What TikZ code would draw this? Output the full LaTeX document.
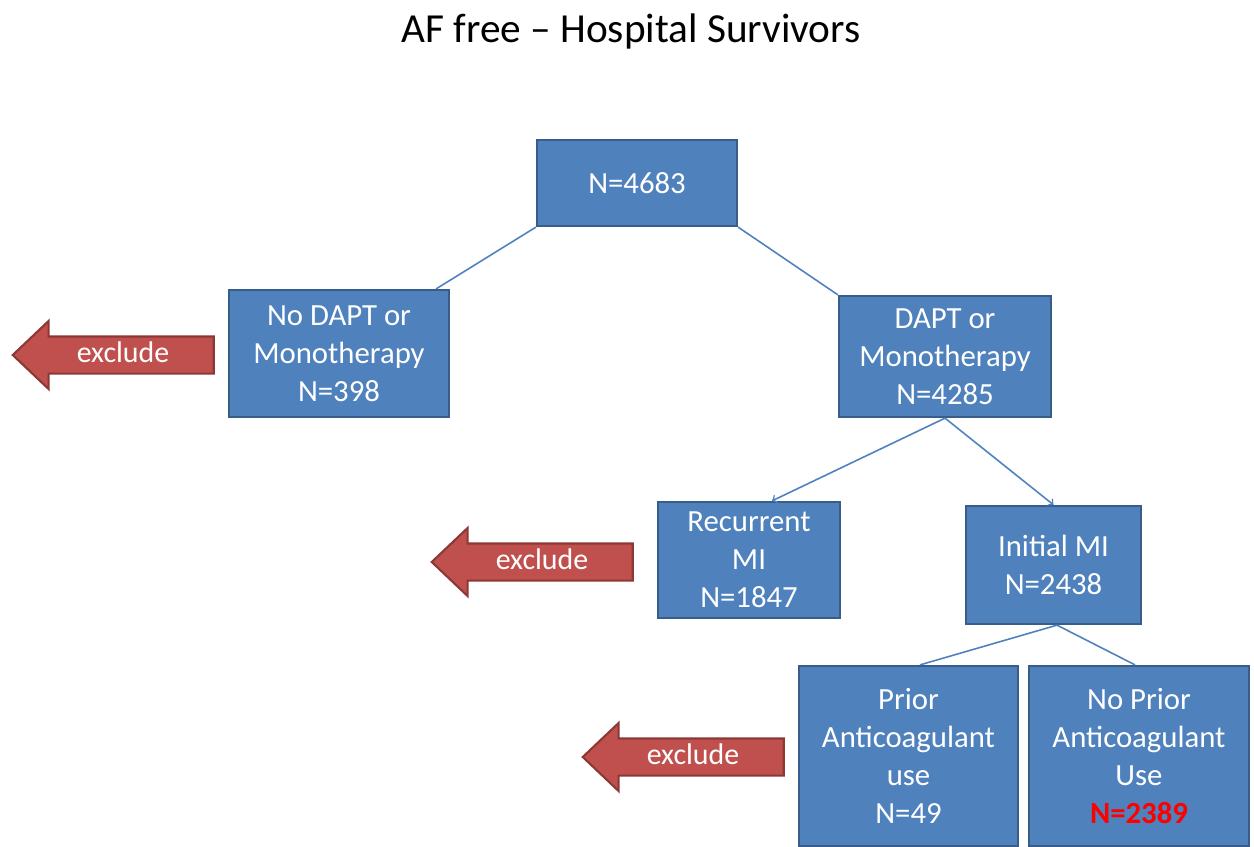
\documentclass[tikz,border=0pt]{standalone}
\usepackage{fontspec}
\setmainfont{Carlito}
\usepackage{tikz}
\usetikzlibrary{positioning}
\usetikzlibrary{shapes,arrows}
\definecolor{boxfill}{HTML}{4F81BD}
\definecolor{boxline}{HTML}{385D8A}
\definecolor{exfill}{HTML}{C0504D}
\definecolor{exline}{HTML}{8C3836}
\tikzset{box/.style={rectangle, draw=boxline, line width=1.3pt, fill=boxfill, text=white, align=center, font=\fontsize{17.5}{21.5}\selectfont, inner sep=0pt}}
\tikzset{excl/.style={single arrow, shape border rotate=180, draw=exline, line width=1.2pt, fill=exfill, text=white, font=\fontsize{17}{20}\selectfont, minimum height=4.02cm, text height=0.4cm, text depth=0.1cm, inner ysep=0.1cm, inner xsep=0.2cm, single arrow head extend=0.31cm, single arrow tip angle=87}}
\tikzset{link/.style={draw=boxfill, line width=0.9pt}}
\begin{document}
\begin{tikzpicture}[x=0.02cm,y=-0.02cm]
\useasboundingbox (0,0) rectangle (1254,846);
\node[font=\fontsize{23.5}{28}\selectfont] (title) at (631,31) {AF free -- Hospital Survivors};
% boxes
\node[box, minimum width=4cm, minimum height=1.72cm] (all) at (637,183) {N=4683};
\node[box, minimum width=4.4cm, minimum height=2.54cm] (nodapt) at (339,353.5) {No DAPT or\\Monotherapy\\N=398};
\node[box, minimum width=4.24cm, minimum height=2.42cm] (dapt) at (945,356.5) {DAPT or\\Monotherapy\\N=4285};
\node[box, minimum width=3.64cm, minimum height=2.32cm] (recur) at (749,560) {Recurrent\\MI\\N=1847};
\node[box, minimum width=3.5cm, minimum height=2.36cm] (initial) at (1053.5,565) {Initial MI\\N=2438};
\node[box, minimum width=4.38cm, minimum height=3.6cm] (prior) at (908.5,756) {Prior\\Anticoagulant\\use\\N=49};
\node[box, minimum width=4.4cm, minimum height=3.6cm] (noprior) at (1139,756) {No Prior\\Anticoagulant\\Use\\\textcolor{red}{\textbf{N=2389}}};
% exclude arrows
\node[excl] (ex1) at (123,355) {exclude};
\node[excl] (ex2) at (542,562) {exclude};
\node[excl] (ex3) at (693,757) {exclude};
% links
\draw[link] (all.south west) -- ([xshift=-0.28cm]nodapt.north east);
\draw[link] (all.south east) -- (dapt.north west);
\draw[link,->] (dapt.south) -- ([xshift=0.46cm]recur.north);
\draw[link,->] (dapt.south) -- (initial.north);
\draw[link] ([xshift=0.07cm]initial.south) -- ([xshift=0.23cm]prior.north);
\draw[link] ([xshift=0.07cm]initial.south) -- ([xshift=-0.08cm]noprior.north);
\end{tikzpicture}
\end{document}
